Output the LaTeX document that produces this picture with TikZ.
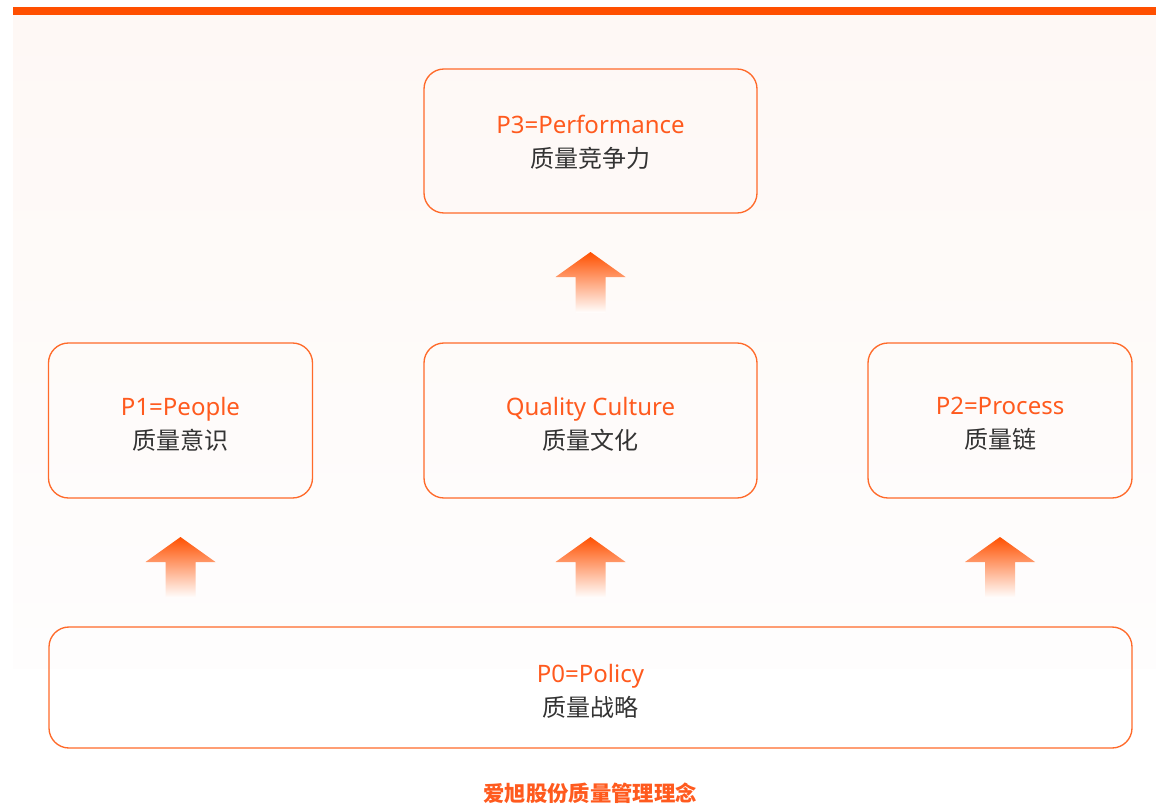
\documentclass[tikz,border=0pt]{standalone}
\usepackage{fontspec}
\setmainfont{Noto Sans}
\newfontfamily\cjk{Noto Sans CJK SC}
\definecolor{barorange}{RGB}{255,79,0}
\definecolor{boxorange}{RGB}{255,106,42}
\definecolor{txtorange}{RGB}{255,90,30}
\definecolor{txtdark}{RGB}{51,51,51}
\definecolor{bgtop}{RGB}{254,248,245}
\definecolor{bgbot}{RGB}{254,253,253}
\definecolor{arrtop}{RGB}{255,80,0}
\definecolor{arrmid}{RGB}{255,140,92}
\tikzset{
  qbox/.style={draw=boxorange, line width=1pt, rounded corners=15pt,
    inner sep=0pt, minimum height=116.25pt},
  qtext/.style={align=center, inner sep=0pt, yshift=-2.6pt,
    font=\fontsize{18}{25.5}\selectfont, text=txtdark},
  uparrow/.pic={
    \shade[top color=arrtop, middle color=arrmid, bottom color=white]
      (0,0) -- (35,25) -- (15,25) -- (15,61) -- (-15,61) -- (-15,25) -- (-35,25) -- cycle;
  }
}
\begin{document}
\begin{tikzpicture}[x=0.75pt,y=-0.75pt]
\useasboundingbox (0,0) rectangle (1156,806);
\fill[white] (0,0) rectangle (1156,806);
% background panel
\shade[top color=bgtop, bottom color=bgbot] (13,15) rectangle (1156,668);
% top bar
\fill[barorange] (13,7) rectangle (1156,15);
% boxes
\node[qbox, minimum width=249.75pt, minimum height=108pt,
  label={[qtext, yshift=1.5pt]center:{{\color{txtorange}P3=Performance}\\{\cjk 质量竞争力}}}] (p3) at (590.5,141) {};
\node[qbox, minimum width=198pt,
  label={[qtext]center:{{\color{txtorange}P1=People}\\{\cjk 质量意识}}}] (p1) at (180.5,420.5) {};
\node[qbox, minimum width=249.75pt,
  label={[qtext]center:{{\color{txtorange}Quality Culture}\\{\cjk 质量文化}}}] (qc) at (590.5,420.5) {};
\node[qbox, minimum width=198pt,
  label={[qtext]center:{{\color{txtorange}P2=Process}\\{\cjk 质量链}}}] (p2) at (1000,420.5) {};
\node[qbox, minimum width=812.25pt, minimum height=90.75pt,
  label={[qtext]center:{{\color{txtorange}P0=Policy}\\{\cjk 质量战略}}}] (p0) at (590.5,687.5) {};
% arrows
\pic at (590.5,252) {uparrow};
\pic at (180.5,537) {uparrow};
\pic at (590.5,537) {uparrow};
\pic at (1000,537) {uparrow};
% caption
\node[font=\cjk\bfseries\fontsize{16}{18}\selectfont, text=txtorange] (cap) at (590,793) {爱旭股份质量管理理念};
\end{tikzpicture}
\end{document}
